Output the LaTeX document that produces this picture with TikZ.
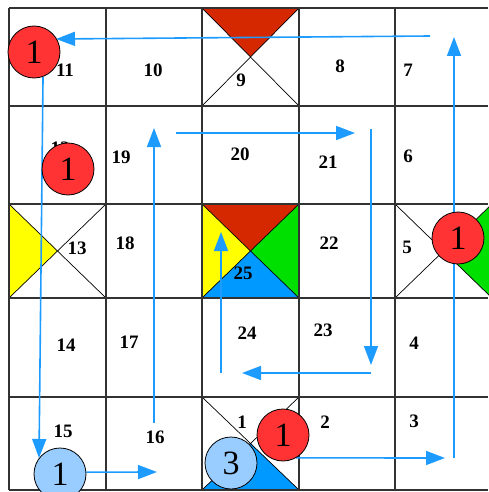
\documentclass[tikz,border=0pt]{standalone}
\usepackage{fontspec}
\setmainfont{Liberation Serif}
\usetikzlibrary{arrows.meta}
\definecolor{pathblue}{RGB}{30,155,255}
\definecolor{tokred}{RGB}{255,51,51}
\definecolor{toklight}{RGB}{153,204,255}
\definecolor{safered}{RGB}{214,40,0}
\definecolor{safeyellow}{RGB}{255,255,0}
\definecolor{safegreen}{RGB}{0,224,0}
\definecolor{safeblue}{RGB}{0,153,255}
\definecolor{gridgray}{RGB}{50,50,50}
\pgfdeclarelayer{board}
\pgfdeclarelayer{paths}
\pgfsetlayers{board,paths,main}

\begin{document}
\begin{tikzpicture}[x=1pt,y=-1pt,
  NUM/.style={font=\fontsize{19}{19}\selectfont\bfseries, inner sep=0pt},
  TOK/.style={circle, draw=black, line width=0.8pt, minimum size=52pt, inner sep=0pt,
              font=\fontsize{34}{34}\selectfont},
  RT/.style={TOK, fill=tokred},
  BT/.style={TOK, fill=toklight},
  AR/.style={-{Triangle[length=19pt,width=14pt]}, line width=1.6pt, pathblue},
  GR/.style={line width=1.6pt, gridgray},
  DG/.style={line width=0.7pt, black}
]
  \useasboundingbox (0,0) rectangle (488,492);
  \clip (0,0) rectangle (488,492);

  \begin{pgfonlayer}{board}
  % coloured safe squares
  \fill[safered]    (202,8) -- (299,8) -- (250.5,57) -- cycle;
  \fill[safeyellow] (9,204) -- (57.5,251) -- (9,298) -- cycle;
  \fill[safered]    (202,204) -- (299,204) -- (250.5,251) -- cycle;
  \fill[safeyellow] (202,204) -- (250.5,251) -- (202,298) -- cycle;
  \fill[safegreen]  (299,204) -- (250.5,251) -- (299,298) -- cycle;
  \fill[safeblue]   (202,298) -- (250.5,251) -- (299,298) -- cycle;
  \fill[safegreen]  (492,204) -- (443.5,251) -- (492,298) -- cycle;
  \fill[safeblue]   (202,490) -- (250.5,443.5) -- (299,490) -- cycle;

  % diagonals
  \foreach \x/\y/\w/\h in {202/8/97/98, 9/204/97/94, 202/204/97/94, 395/204/97/94, 202/397/97/93}
    \draw[DG] (\x,\y) -- ++(\w,\h) (\x+\w,\y) -- ++(-\w,\h);

  % board grid
  \foreach \y in {8,106,204,298,397,490} \draw[GR] (9,\y) -- (488,\y);
  \foreach \x in {9,106,202,299,395} \draw[GR] (\x,8) -- (\x,490);

  % cell numbers
  \foreach \n/\x/\y in {11/65/70, 10/153/70, 9/241/80, 8/340/66, 7/408/70,
                        12/60/148, 19/121/157, 20/240/154, 21/328/162, 6/408/156,
                        13/77/248, 18/125/243, 25/243/273, 22/329/243, 5/407/247,
                        14/66/345, 17/129/342, 24/247/333, 23/323/330, 4/414/343,
                        15/63/431, 16/155/437, 1/242/422, 2/325/422, 3/414/421}
    \node[NUM] (n\n) at (\x,\y) {\n};
  \end{pgfonlayer}

  % tokens
  \node[RT] (r1) at (34,52)   {1};
  \node[RT] (r2) at (68,169)  {1};
  \node[RT] (r3) at (458,238) {1};
  \node[RT] (r4) at (283,435) {1};
  \node[BT] (b1) at (60,474)  {1};
  \node[BT] (b3) at (231,463) {3};

  % path coordinates
  \coordinate (p1s) at (430,36);  \coordinate (p1e) at (56,39);
  \coordinate (p2e) at (39,458);
  \coordinate (p3e) at (157,472);
  \coordinate (p4s) at (154,423); \coordinate (p4e) at (154,128);
  \coordinate (p5s) at (176,133); \coordinate (p5e) at (355,133);
  \coordinate (p6s) at (371,129); \coordinate (p6e) at (371,365);
  \coordinate (p7s) at (371,373); \coordinate (p7e) at (242,373);
  \coordinate (p8s) at (221,373); \coordinate (p8e) at (221,232);
  \coordinate (p9e) at (445,458);
  \coordinate (p10s) at (454,458); \coordinate (p10e) at (454,37);

  \begin{pgfonlayer}{paths}
  \foreach \a/\b in {p1s/p1e, r1.-70/p2e, b1.4/p3e, p4s/p4e, p5s/p5e,
                     p6s/p6e, p7s/p7e, p8s/p8e, r4.-60/p9e, p10s/p10e}
    \draw[AR] (\a) -- (\b);
  \end{pgfonlayer}
\end{tikzpicture}
\end{document}
